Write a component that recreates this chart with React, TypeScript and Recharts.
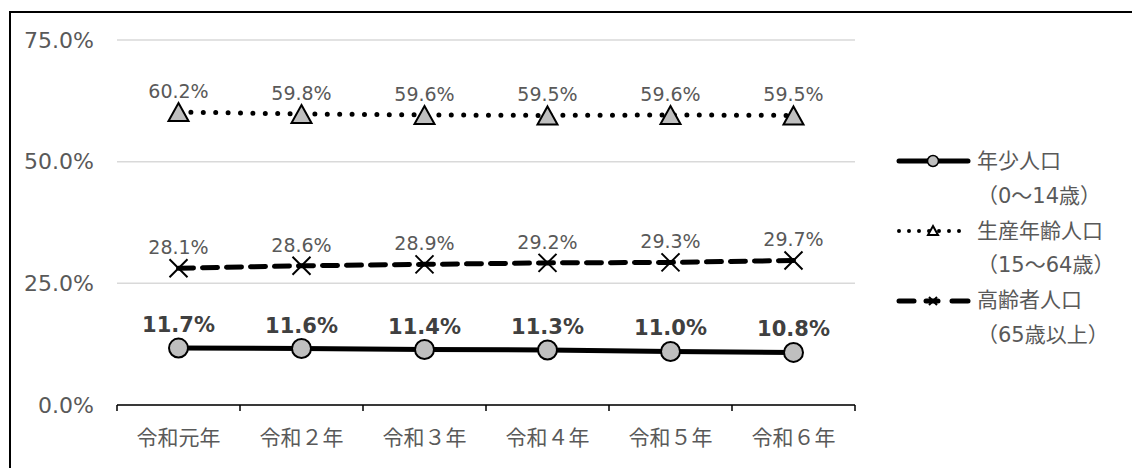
import { LineChart, Line, XAxis, YAxis, CartesianGrid, LabelList } from "recharts";

const years = ["令和元年", "令和２年", "令和３年", "令和４年", "令和５年", "令和６年"];
const youth = [11.7, 11.6, 11.4, 11.3, 11.0, 10.8];
const working = [60.2, 59.8, 59.6, 59.5, 59.6, 59.5];
const elderly = [28.1, 28.6, 28.9, 29.2, 29.3, 29.7];
const yTicks = [0, 25, 50, 75];

const data = years.map((name, i) => ({
    name,
    youth: youth[i],
    working: working[i],
    elderly: elderly[i],
}));

const FONT = '"DejaVu Sans", "Noto Sans CJK JP", sans-serif';
const GRAY_TEXT = "#595959";
const MARK_FILL = "#bfbfbf";

const pct = (v: any) => `${Number(v).toFixed(1)}%`;

function CircleDot(props: any) {
    const { cx, cy, index } = props;
    if (cx == null || cy == null) return null;
    return <circle key={`c-${index}`} cx={cx} cy={cy} r={9.5} fill={MARK_FILL} stroke="#000" strokeWidth={2} />;
}

function TriangleDot(props: any) {
    const { cx, cy, index } = props;
    if (cx == null || cy == null) return null;
    const w = 10;
    const h = 18;
    return (
        <path
            key={`t-${index}`}
            d={`M${cx},${cy - h / 2} L${cx + w},${cy + h / 2} L${cx - w},${cy + h / 2} Z`}
            fill={MARK_FILL}
            stroke="#000"
            strokeWidth={2}
        />
    );
}

function CrossDot(props: any) {
    const { cx, cy, index } = props;
    if (cx == null || cy == null) return null;
    const s = 9;
    return (
        <path
            key={`x-${index}`}
            d={`M${cx - s},${cy - s} L${cx + s},${cy + s} M${cx - s},${cy + s} L${cx + s},${cy - s}`}
            stroke="#000"
            strokeWidth={2}
        />
    );
}

// category label plus the boundary tick marks (Excel style, ticks between categories)
function YearTick(props: any) {
    const { x, y, payload, index, width, visibleTicksCount } = props;
    const half = width / visibleTicksCount / 2;
    const last = index === visibleTicksCount - 1;
    return (
        <g>
            <line x1={x - half} y1={y} x2={x - half} y2={y + 6} stroke="#000" strokeWidth={1.5} />
            {last && <line x1={x + half} y1={y} x2={x + half} y2={y + 6} stroke="#000" strokeWidth={1.5} />}
            <text x={x} y={y + 40} textAnchor="middle" fill={GRAY_TEXT} fontSize={21} fontFamily={FONT}>
                {payload.value}
            </text>
        </g>
    );
}

const legendRows = [
    { label: "年少人口", sub: "（0～14歳）", kind: "solid" },
    { label: "生産年齢人口", sub: "（15～64歳）", kind: "dot" },
    { label: "高齢者人口", sub: "（65歳以上）", kind: "dash" },
];

function LegendSample({ kind }: { kind: string }) {
    const y = 8;
    return (
        <svg width={76} height={16} style={{ display: "block" }}>
            {kind === "solid" && (
                <>
                    <line x1={3} y1={y} x2={72} y2={y} stroke="#000" strokeWidth={5} strokeLinecap="round" />
                    <circle cx={37} cy={y} r={5.5} fill={MARK_FILL} stroke="#000" strokeWidth={1.5} />
                </>
            )}
            {kind === "dot" && (
                <>
                    <line x1={3} y1={y} x2={72} y2={y} stroke="#000" strokeWidth={4} strokeDasharray="0 10" strokeLinecap="round" />
                    <path d={`M37,${y - 5} L42,${y + 4} L32,${y + 4} Z`} fill="#fff" stroke="#000" strokeWidth={2} />
                </>
            )}
            {kind === "dash" && (
                <>
                    <line x1={3} y1={y} x2={18} y2={y} stroke="#000" strokeWidth={5} strokeLinecap="round" />
                    <line x1={30} y1={y} x2={42} y2={y} stroke="#000" strokeWidth={5} strokeLinecap="round" />
                    <line x1={56} y1={y} x2={72} y2={y} stroke="#000" strokeWidth={5} strokeLinecap="round" />
                    <path d={`M33,${y - 4} L41,${y + 4} M33,${y + 4} L41,${y - 4}`} stroke="#000" strokeWidth={2} />
                </>
            )}
        </svg>
    );
}

export default function App() {
    return (
        <div style={{ position: "fixed", left: 0, top: 0, width: 1132, height: 468, background: "#fff", overflow: "hidden", fontFamily: FONT }}>
            <div
                style={{
                    position: "absolute",
                    left: 9,
                    top: 11,
                    width: 1200,
                    height: 500,
                    borderTop: "2px solid #000",
                    borderLeft: "2px solid #000",
                }}
            />
            <div style={{ position: "absolute", left: 0, top: 0 }}>
                <LineChart width={1132} height={468} data={data} margin={{ top: 40, right: 277, bottom: 62, left: 0 }}>
                    <CartesianGrid vertical={false} stroke="#d9d9d9" strokeWidth={1.5} />
                    <XAxis
                        dataKey="name"
                        scale="band"
                        height={1}
                        axisLine={{ stroke: "#000", strokeWidth: 1.5 }}
                        tickLine={false}
                        tickSize={0}
                        tickMargin={0}
                        tick={YearTick}
                        interval={0}
                    />
                    <YAxis
                        width={117}
                        domain={[0, 75]}
                        ticks={yTicks}
                        axisLine={false}
                        tickLine={false}
                        tickMargin={17}
                        tickFormatter={pct}
                        tick={{ fill: GRAY_TEXT, fontSize: 22, fontFamily: FONT }}
                    />
                    <Line
                        dataKey="working"
                        stroke="#000"
                        strokeWidth={5}
                        strokeDasharray="0 12.4"
                        strokeLinecap="round"
                        dot={TriangleDot}
                        activeDot={false}
                        isAnimationActive={false}
                    >
                        <LabelList dataKey="working" position="top" offset={14} formatter={pct} fill={GRAY_TEXT} fontSize={19} fontFamily={FONT} />
                    </Line>
                    <Line
                        dataKey="elderly"
                        stroke="#000"
                        strokeWidth={5}
                        strokeDasharray="15 9"
                        strokeLinecap="round"
                        dot={CrossDot}
                        activeDot={false}
                        isAnimationActive={false}
                    >
                        <LabelList dataKey="elderly" position="top" offset={14} formatter={pct} fill={GRAY_TEXT} fontSize={19} fontFamily={FONT} />
                    </Line>
                    <Line
                        dataKey="youth"
                        stroke="#000"
                        strokeWidth={5}
                        dot={CircleDot}
                        activeDot={false}
                        isAnimationActive={false}
                    >
                        <LabelList dataKey="youth" position="top" offset={16} formatter={pct} fill="#404040" fontSize={21} fontWeight="bold" fontFamily={FONT} />
                    </Line>
                </LineChart>
            </div>
            <div style={{ position: "absolute", left: 896, top: 144, color: GRAY_TEXT, fontSize: 21, lineHeight: "34.8px" }}>
                {legendRows.map((r) => (
                    <div key={r.label}>
                        <div style={{ display: "flex", alignItems: "center" }}>
                            <LegendSample kind={r.kind} />
                            <span style={{ marginLeft: 5 }}>{r.label}</span>
                        </div>
                        <div style={{ marginLeft: 81 }}>{r.sub}</div>
                    </div>
                ))}
            </div>
        </div>
    );
}
